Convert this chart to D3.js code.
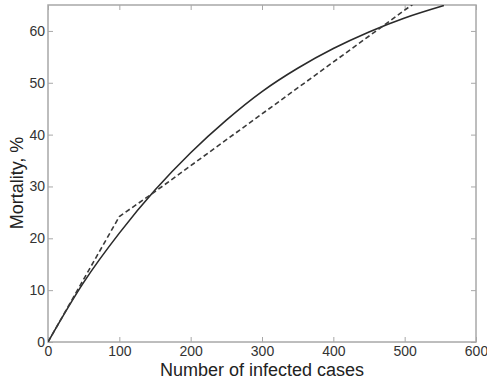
<!DOCTYPE html>
<html><head><meta charset="utf-8">
<script src="https://cdn.jsdelivr.net/npm/d3@7"></script>
<style>body{margin:0;background:#fff}svg{display:block}</style>
</head><body><svg id="c" width="487" height="383"></svg>
<script>
const xTicks = [0,100,200,300,400,500,600];
const yTicks = [0,10,20,30,40,50,60];
const solidX = [0,50,100,150,200,250,300,350,400,450,500,555];
const solidY = [0,11.5,21,29.3,36.5,42.8,48.3,52.8,56.6,59.8,62.5,64.9];
const dashedX = [0,100,150,520];
const dashedY = [0,24.2,29,66];

const svg = d3.select('#c');
const m = {l:48, r:476, t:5, b:342};
const x = d3.scaleLinear().domain([0,600]).range([m.l, m.r]);
const y = d3.scaleLinear().domain([0,65]).range([m.b, m.t]);
const axisCol = '#a8a8a8', textCol = '#333';

svg.append('defs').append('clipPath').attr('id','clip')
  .append('rect').attr('x',m.l).attr('y',m.t).attr('width',m.r-m.l).attr('height',m.b-m.t);

function styleAxis(g){
  g.select('.domain').remove();
  g.selectAll('.tick line').attr('stroke',axisCol).attr('stroke-width',1);
  g.selectAll('.tick text').attr('fill',textCol).attr('font-family','Liberation Sans, Arial, sans-serif').attr('font-size',14);
}
svg.append('g').attr('transform',`translate(0,${m.b})`)
  .call(d3.axisBottom(x).tickValues(xTicks).tickSize(-5).tickPadding(4).tickFormat(d3.format('d'))).call(styleAxis);
svg.append('g').attr('transform',`translate(0,${m.t})`)
  .call(d3.axisTop(x).tickValues(xTicks).tickSize(-5).tickFormat('')).call(styleAxis);
svg.append('g').attr('transform',`translate(${m.l},0)`)
  .call(d3.axisLeft(y).tickValues(yTicks).tickSize(-5).tickPadding(3).tickFormat(d3.format('d'))).call(styleAxis);
svg.append('g').attr('transform',`translate(${m.r},0)`)
  .call(d3.axisRight(y).tickValues(yTicks).tickSize(-5).tickFormat('')).call(styleAxis);

svg.append('rect').attr('x',m.l).attr('y',m.t).attr('width',m.r-m.l).attr('height',m.b-m.t)
  .attr('fill','none').attr('stroke',axisCol).attr('stroke-width',1.5);

const gp = svg.append('g').attr('clip-path','url(#clip)');
gp.append('path').datum(solidX.map((v,i)=>[v,solidY[i]]))
  .attr('d', d3.line().x(d=>x(d[0])).y(d=>y(d[1])).curve(d3.curveCatmullRom))
  .attr('fill','none').attr('stroke','#2a2a2a').attr('stroke-width',1.6);
gp.append('path').datum(dashedX.map((v,i)=>[v,dashedY[i]]))
  .attr('d', d3.line().x(d=>x(d[0])).y(d=>y(d[1]))).attr('fill','none').attr('stroke','#3a3a3a')
  .attr('stroke-width',1.6).attr('stroke-dasharray','5,3');

svg.append('text').attr('x',262).attr('y',376).attr('text-anchor','middle')
  .attr('font-family','Liberation Sans, Arial, sans-serif').attr('font-size',18).attr('fill','#222')
  .text('Number of infected cases');
svg.append('text').attr('transform','translate(23,183) rotate(-90)').attr('text-anchor','middle')
  .attr('font-family','Liberation Sans, Arial, sans-serif').attr('font-size',18).attr('fill','#222')
  .text('Mortality, %');
</script></body></html>
